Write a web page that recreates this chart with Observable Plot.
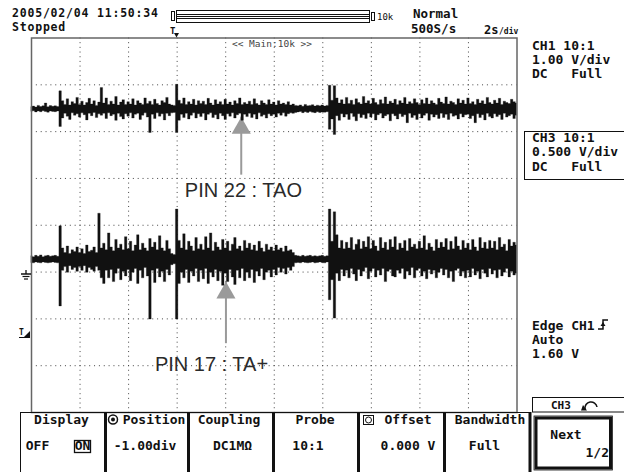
<!DOCTYPE html>
<html><head><meta charset="utf-8">
<script src="https://cdn.jsdelivr.net/npm/d3@7"></script>
<script src="https://cdn.jsdelivr.net/npm/@observablehq/plot@0.6"></script>
<style>
body{margin:0;background:#fff;}
#scope{position:relative;width:624px;height:472px;overflow:hidden;background:#fff;}
#scope svg{position:absolute;left:0;top:0;}
</style></head><body>
<div id="scope"></div>
<script>
// ---- acquisition (2 s/div, envelope in 0.1 s bins, trigger at t = 0) ----
const sampleStart = -6;      // s
const sampleStep = 0.1;      // s
const gridTimes = [-4, -2, 0, 2, 4, 6, 8, 10, 12];   // s (vertical graticule)
const gridDivs = [-3, -2, -1, 0, 1, 2, 3];           // div (horizontal graticule)

// CH1 (1.00 V/div) envelope, mV relative to trace level
const ch1VoltsPerDiv = 1.0;
const ch1Position = 2.48;    // div
const ch1Hi = [
  40,55,35,70,45,60,120,40,65,50,
  60,45,380,170,90,210,80,150,110,240,
  90,160,80,130,220,100,170,70,140,450,
  120,230,90,160,100,260,80,140,190,90,
  150,100,210,80,170,120,90,230,110,160,
  90,200,110,80,170,130,240,100,80,70,
  520,180,110,230,90,150,100,200,80,170,
  110,160,90,220,120,80,190,100,150,90,
  200,100,140,80,170,110,230,90,130,100,
  160,90,210,110,80,170,120,90,190,100,
  140,80,170,100,120,90,150,80,100,70,
  60,80,50,90,60,70,85,55,75,60,
  80,55,70,500,180,490,230,120,190,100,
  240,110,180,90,210,130,100,260,120,170,
  100,220,130,90,190,110,250,100,160,120,
  200,90,170,120,240,100,150,110,210,130,
  90,190,110,230,100,170,120,90,220,140,
  110,250,100,160,130,90,210,120,180,100,
  230,110,150,90,200,120,170,100,240,130,
  100,180,120,220,90,160,130,110,200,150,
  120];
const ch1Lo = [
  -55,-45,-70,-50,-65,-45,-60,-75,-50,-60,
  -65,-50,-380,-200,-100,-160,-230,-90,-140,-110,
  -180,-90,-130,-240,-100,-150,-80,-190,-110,-140,
  -100,-210,-90,-150,-120,-250,-100,-170,-220,-110,
  -160,-90,-200,-120,-100,-230,-140,-90,-180,-510,
  -120,-210,-90,-160,-110,-240,-100,-150,-90,-80,
  -510,-250,-120,-190,-100,-220,-140,-90,-200,-110,
  -170,-100,-240,-120,-90,-190,-130,-220,-100,-150,
  -230,-110,-160,-90,-200,-130,-100,-250,-120,-170,
  -100,-190,-120,-220,-90,-160,-130,-200,-110,-150,
  -120,-180,-100,-140,-90,-160,-110,-90,-100,-80,
  -70,-60,-85,-65,-80,-60,-75,-85,-65,-80,
  -70,-75,-65,-440,-220,-550,-150,-250,-110,-180,
  -120,-230,-100,-170,-260,-110,-190,-130,-210,-100,
  -180,-110,-240,-130,-100,-200,-150,-120,-260,-110,
  -150,-220,-110,-170,-130,-300,-100,-190,-140,-230,
  -110,-200,-140,-100,-250,-120,-180,-130,-210,-100,
  -190,-120,-230,-100,-160,-140,-220,-110,-180,-130,
  -120,-210,-150,-300,-110,-190,-130,-240,-100,-170,
  -200,-110,-170,-130,-230,-100,-180,-150,-120,-210,
  -140];

// CH3 (0.500 V/div, position -1.00 div) envelope, mV relative to trace level
const ch3VoltsPerDiv = 0.5;
const ch3Position = -1.0;    // div
const ch3Level = 133;        // mV
const ch3Hi = [
  35,25,40,30,45,25,35,40,30,35,
  40,30,355,120,70,140,60,100,80,130,
  70,110,60,150,80,95,130,70,490,120,
  170,100,280,130,90,210,120,160,100,240,
  110,190,90,150,260,100,170,120,90,220,
  130,180,100,250,120,90,200,110,60,50,
  535,200,120,270,100,190,140,90,230,110,
  160,100,240,120,280,90,180,130,100,210,
  120,190,90,160,230,110,140,90,200,120,
  170,100,150,90,190,120,80,160,100,130,
  90,150,100,120,80,140,90,100,70,40,
  35,30,40,30,35,40,30,35,30,35,
  40,30,35,535,190,505,260,120,200,110,
  180,120,230,100,160,210,110,190,130,240,
  110,200,140,90,230,120,180,100,210,130,
  240,100,170,120,200,90,220,130,160,110,
  190,120,250,100,170,130,90,210,120,180,
  130,220,100,190,110,240,140,100,200,120,
  170,100,210,130,90,230,120,180,110,200,
  120,190,100,230,130,160,90,210,140,180,
  150];
const ch3Lo = [
  -35,-40,-30,-35,-40,-30,-35,-40,-35,-30,
  -35,-40,-500,-120,-80,-140,-70,-110,-90,-130,
  -80,-120,-70,-140,-90,-110,-130,-80,-120,-200,
  -260,-120,-200,-110,-240,-150,-100,-220,-130,-180,
  -110,-230,-140,-100,-260,-120,-200,-90,-180,-640,
  -120,-250,-100,-190,-130,-240,-110,-170,-60,-50,
  -640,-260,-140,-200,-110,-250,-130,-180,-100,-240,
  -120,-210,-100,-260,-140,-190,-110,-230,-130,-280,
  -150,-240,-110,-190,-270,-120,-200,-100,-230,-140,
  -200,-110,-250,-130,-180,-100,-220,-140,-120,-190,
  -110,-170,-90,-140,-100,-160,-90,-120,-80,-40,
  -35,-40,-30,-35,-40,-35,-30,-40,-35,-30,
  -35,-40,-30,-435,-220,-630,-150,-230,-110,-180,
  -120,-200,-100,-160,-230,-110,-180,-130,-90,-210,
  -130,-100,-190,-120,-170,-100,-240,-130,-110,-180,
  -190,-120,-150,-100,-210,-130,-170,-90,-200,-120,
  -100,-180,-130,-210,-110,-160,-120,-200,-140,-100,
  -170,-110,-200,-130,-240,-120,-100,-180,-130,-200,
  -120,-190,-100,-170,-130,-210,-110,-150,-190,-100,
  -160,-120,-200,-110,-180,-140,-100,-190,-130,-170,
  -150];

// annotations (time in s, vertical in div)
const noteLabels = ["PIN 22 : TAO", "PIN 17 : TA+"];
const noteX = [2.64, 2.01];
const noteTip = [2.31, -1.21];
const noteTail = [1.07, -2.53];
const noteTextX = [2.73, 1.415];
const noteTextY = [0.75, -2.97];

// screen texts
const headerDate = "2005/02/04 11:50:34";
const headerState = "Stopped";
const headerMode = "Normal";
const headerRate = "500S/s";
const ch1Info = ["CH1 10:1", "1.00 V/div", "DC   Full"];
const ch3Info = ["CH3 10:1", "0.500 V/div", "DC   Full"];
const trigInfo = ["Edge CH1", "Auto", "1.60 V"];
const menuLabels = ["Display", "Position", "Coupling", "Probe", "Offset", "Bandwidth"];
const menuValues = ["OFF", "-1.00div", "DC1MΩ", "10:1", "0.000 V", "Full"];

// ---- build rows ----
const ch1Rows = ch1Hi.map((h, i) => ({
  t: sampleStart + i * sampleStep,
  hi: ch1Position + h / (ch1VoltsPerDiv * 1000),
  lo: ch1Position + ch1Lo[i] / (ch1VoltsPerDiv * 1000)
}));
const ch3Rows = ch3Hi.map((h, i) => ({
  t: sampleStart + i * sampleStep,
  hi: ch3Position + (ch3Level + h) / (ch3VoltsPerDiv * 1000),
  lo: ch3Position + (ch3Level + ch3Lo[i]) / (ch3VoltsPerDiv * 1000)
}));
const notes = noteLabels.map((label, i) => ({label, x: noteX[i], tip: noteTip[i], tail: noteTail[i], tx: noteTextX[i], ty: noteTextY[i]}));

const plot = Plot.plot({
  width: 624, height: 472,
  marginLeft: 31, marginRight: 107.5, marginTop: 37.5, marginBottom: 60,
  x: {domain: [-6, 14], axis: null},
  y: {domain: [-4, 4], axis: null},
  style: {background: "transparent"},
  marks: [
    Plot.ruleX(gridTimes, {stroke: "#444", strokeWidth: 1, strokeDasharray: "1,3.68"}),
    Plot.ruleY(gridDivs, {stroke: "#444", strokeWidth: 1, strokeDasharray: "1,3.85"}),
    Plot.ruleX(notes, {x: "x", y1: "tail", y2: "tip", stroke: "#9a9a9a", strokeWidth: 2}),
    Plot.dot(notes, {x: "x", y: "tip", symbol: "triangle", r: 7.1, fill: "#9a9a9a", stroke: "none", dy: 11}),
    Plot.text(notes, {x: "tx", y: "ty", text: "label", fontSize: 20, fontFamily: "Liberation Sans, Arial, sans-serif", fill: "#2a2a2a", textAnchor: "middle", lineAnchor: "middle"}),
    Plot.areaY(ch1Rows, {x: "t", y1: "lo", y2: "hi", curve: "step", fill: "#111", stroke: "#111", strokeWidth: 0.3}),
    Plot.areaY(ch3Rows, {x: "t", y1: "lo", y2: "hi", curve: "step", fill: "#111", stroke: "#111", strokeWidth: 0.3}),
    Plot.frame({stroke: "#666", strokeWidth: 1.5})
  ]
});
document.getElementById("scope").appendChild(plot);

// ---- screen chrome overlay ----
const svg = d3.select("#scope").append("svg").attr("width", 624).attr("height", 472);
const MONO = "DejaVu Sans Mono, Liberation Mono, monospace";
function T(x, y, s, o = {}) {
  const e = svg.append("text").attr("x", x).attr("y", y).text(s)
    .attr("font-family", o.ff || MONO).attr("font-weight", o.fw || "bold")
    .attr("font-size", o.fs || 13).attr("fill", o.fill || "#111")
    .style("white-space", "pre");
  if (o.anchor) e.attr("text-anchor", o.anchor);
  if (o.ls) e.attr("letter-spacing", o.ls);
  return e;
}
function L(x1, y1, x2, y2, w = 1, c = "#111") {
  svg.append("line").attr("x1", x1).attr("y1", y1).attr("x2", x2).attr("y2", y2).attr("stroke", c).attr("stroke-width", w);
}
function R(x, y, w, h, sw = 1, c = "#111", fill = "none") {
  svg.append("rect").attr("x", x).attr("y", y).attr("width", w).attr("height", h).attr("stroke", c).attr("stroke-width", sw).attr("fill", fill);
}

// header
T(12, 17, headerDate, {fs: 11.5, ls: 0.8});
T(12, 30.5, headerState, {fs: 11.5, ls: 0.8});
T(413, 17.5, headerMode, {fs: 12.5});
T(411, 33, headerRate, {fs: 12.5});
T(484, 33.5, "2s", {fs: 12});
T(499, 33.5, "/div", {fs: 8});
// history bar
R(171.5, 11.5, 3, 9, 1);
R(176.5, 10.5, 193, 12, 1);
L(176.5, 14.5, 369.5, 14.5, 1);
L(176.5, 16.5, 369.5, 16.5, 1);
L(176.5, 18.5, 369.5, 18.5, 1);
R(371.5, 12.5, 3, 8, 1);
T(377, 20, "10k", {fs: 9, fw: "normal"});
// trigger position marker
T(170, 34, "T", {fs: 9});
svg.append("path").attr("d", "M174,33 L179,33 L176.5,37.5 Z").attr("fill", "#111");
// zoom label
T(272, 47, "<< Main:10k >>", {fs: 9.5, fw: "normal", fill: "#444", anchor: "middle"});

// right panel
ch1Info.forEach((s, i) => T(532, 49.5 + i * 14.4, s));
R(524.5, 131.5, 110, 48, 1);
ch3Info.forEach((s, i) => T(532, 141.7 + i * 14.4, s));
trigInfo.forEach((s, i) => T(532, 330 + i * 14, s));
// rising edge glyph
svg.append("path").attr("d", "M598,329 L603,329 L603,320 L608,320").attr("stroke", "#111").attr("stroke-width", 1.5).attr("fill", "none");
svg.append("path").attr("d", "M600.5,326 L603,322 L605.5,326 Z").attr("fill", "#111");

// left markers: CH3 ground, trigger level
L(26, 270, 26, 274, 1.3); L(21, 274, 31, 274, 1.5); L(22.5, 276.5, 29.5, 276.5, 1.2); L(24, 279, 28, 279, 1.2);
T(19, 335, "T", {fs: 8});
svg.append("path").attr("d", "M24,337 L30,337 L30,331 Z").attr("fill", "#111");
L(19, 337.5, 30, 337.5, 1);

// bottom menu
L(20, 412.5, 531, 412.5, 1);
L(20.5, 412.5, 20.5, 472, 1);
[104, 187, 272, 357, 443, 528.5].forEach(x => R(x, 412, 3, 62, 0, "none", "#111"));
const menuCx = [61.5, 150, 229, 315, 404, 490];
menuLabels.forEach((s, i) => T(menuCx[i] + (i === 1 ? 4 : i === 4 ? 4 : 0), 424, s, {anchor: "middle"}));
const valCx = [37.5, 145, 232.5, 308, 408, 484.5];
menuValues.forEach((s, i) => T(valCx[i], 450, s, {anchor: "middle"}));
R(74.5, 440.5, 16, 12, 1.3);
T(82.5, 450, "ON", {anchor: "middle"});
// knob icons
svg.append("circle").attr("cx", 113).attr("cy", 419.5).attr("r", 4.5).attr("fill", "none").attr("stroke", "#111").attr("stroke-width", 1.5);
svg.append("circle").attr("cx", 113).attr("cy", 419.5).attr("r", 2).attr("fill", "#111");
R(363.5, 415.5, 10, 9, 1);
svg.append("circle").attr("cx", 368.5).attr("cy", 420).attr("r", 3).attr("fill", "none").attr("stroke", "#111").attr("stroke-width", 1);
// CH3 tab and Next key
R(532.5, 397.5, 100, 14.5, 1);
T(551, 408.5, "CH3", {fs: 11});
svg.append("path").attr("d", "M585,409 A6,6 0 1 1 597,407").attr("stroke", "#111").attr("stroke-width", 1.5).attr("fill", "none");
svg.append("path").attr("d", "M583,405 L587,410.5 L581,410.5 Z").attr("fill", "#111");
R(536, 418, 74.5, 50, 3);
R(534, 416, 78.5, 54, 0.8);
T(566, 439, "Next", {anchor: "middle"});
T(609, 457, "1/2", {anchor: "end"});
</script>
</body></html>
